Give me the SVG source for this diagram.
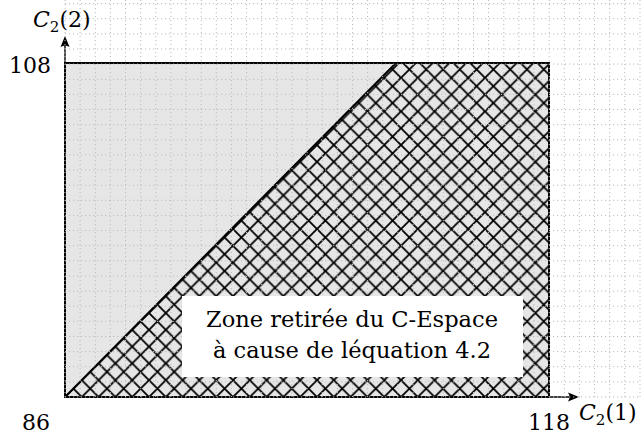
<svg xmlns="http://www.w3.org/2000/svg" width="641" height="438" viewBox="0 0 641 438">
<style>
.grid{stroke:#bdbdbd;stroke-width:1;stroke-dasharray:1.2 2.8;fill:none}
.ax{stroke:#000;stroke-width:1.4;fill:none}
.edge{stroke:#000;stroke-width:2;fill:none}
.t{font-family:"DejaVu Serif","Liberation Serif","Times New Roman",serif;font-size:22px;fill:#000}
</style>
<defs>
<pattern id="xh" patternUnits="userSpaceOnUse" x="65" y="397" width="16.8" height="16.8">
<path d="M-1,-1 L17.8,17.8 M17.8,-1 L-1,17.8" stroke="#000" stroke-width="1.8" fill="none"/>
</pattern>
</defs>
<g id="region-full">
<rect x="65" y="63" width="484" height="334" fill="#e6e6e6"/>
</g>
<g id="region-removed">
<polygon points="65,397 396,63 549,63 549,397" fill="url(#xh)"/>
<line class="edge" x1="65" y1="397" x2="396" y2="63"/>
</g>
<g id="outline">
<rect class="edge" x="65" y="63" width="484" height="334"/>
</g>
<g id="connectors">
<line class="ax" x1="65" y1="397" x2="65" y2="40"/>
<path d="M65,36 L69.5,47 Q65,44 60.5,47 Z" fill="#000"/>
<line class="ax" x1="65" y1="397" x2="575" y2="397"/>
<path d="M579,397 L568,401.5 Q571,397 568,392.5 Z" fill="#000"/>
</g>
<g id="grid">
<path class="grid" d="M80.1,0V397M95.3,0V397M110.4,0V397M125.5,0V397M140.7,0V397M155.8,0V397M170.9,0V397M186,0V397M201.2,0V397M216.3,0V397M231.4,0V397M246.6,0V397M261.7,0V397M276.8,0V397M292,0V397M307.1,0V397M322.2,0V397M337.3,0V397M352.5,0V397M367.6,0V397M382.7,0V397M397.9,0V397M413,0V397M428.1,0V397M443.3,0V397M458.4,0V397M473.5,0V397M488.6,0V397M503.8,0V397M518.9,0V397M534,0V397M549.2,0V397M564.3,0V397M579.4,0V397M594.6,0V397M609.7,0V397M624.8,0V397M640,0V397M65,0V397"/>
<path class="grid" d="M65,381.9H641M65,366.7H641M65,351.6H641M65,336.5H641M65,321.3H641M65,306.2H641M65,291.1H641M65,276H641M65,260.8H641M65,245.7H641M65,230.6H641M65,215.4H641M65,200.3H641M65,185.2H641M65,170H641M65,154.9H641M65,139.8H641M65,124.7H641M65,109.5H641M65,94.4H641M65,79.3H641M65,64.1H641M65,49H641M65,33.9H641M65,18.7H641M65,3.6H641M65,397H641"/>
</g>
<g id="label-box">
<rect x="182" y="296" width="341" height="81" fill="#fff"/>
<text class="t" x="352" y="327" text-anchor="middle" textLength="292" lengthAdjust="spacingAndGlyphs">Zone retirée du C-Espace</text>
<text class="t" x="352" y="358" text-anchor="middle" textLength="278" lengthAdjust="spacingAndGlyphs">à cause de léquation 4.2</text>
</g>
<g id="labels">
<text class="t" x="33" y="27"><tspan font-style="italic">C</tspan><tspan font-size="15" dy="5">2</tspan><tspan dy="-5">(2)</tspan></text>
<text class="t" x="30" y="73" text-anchor="middle">108</text>
<text class="t" x="36" y="430" text-anchor="middle">86</text>
<text class="t" x="549" y="430" text-anchor="middle">118</text>
<text class="t" x="579" y="420"><tspan font-style="italic">C</tspan><tspan font-size="15" dy="5">2</tspan><tspan dy="-5">(1)</tspan></text>
</g>
</svg>
